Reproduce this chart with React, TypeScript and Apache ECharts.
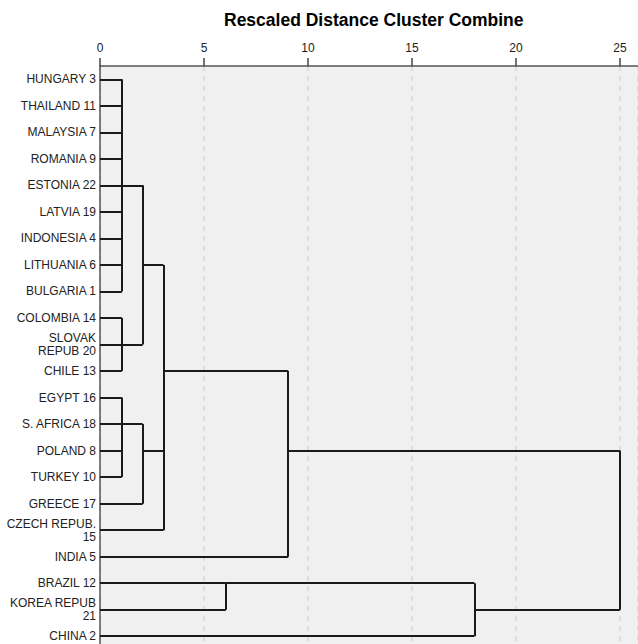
import React, { useEffect, useRef } from "react";
import * as echarts from "echarts";

const leafLabels = [
  "HUNGARY 3",
  "THAILAND 11",
  "MALAYSIA 7",
  "ROMANIA 9",
  "ESTONIA 22",
  "LATVIA 19",
  "INDONESIA 4",
  "LITHUANIA 6",
  "BULGARIA 1",
  "COLOMBIA 14",
  "SLOVAK\nREPUB 20",
  "CHILE 13",
  "EGYPT 16",
  "S. AFRICA 18",
  "POLAND 8",
  "TURKEY 10",
  "GREECE 17",
  "CZECH REPUB.\n15",
  "INDIA 5",
  "BRAZIL 12",
  "KOREA REPUB\n21",
  "CHINA 2",
];

// Node ids: 0..21 are leaves, 22+ are merges in this order
const mergeChildren: number[][] = [
  [0, 1, 2, 3, 4, 5, 6, 7, 8], // 22
  [9, 10, 11], // 23
  [22, 23], // 24
  [12, 13, 14, 15], // 25
  [25, 16], // 26
  [26, 17], // 27
  [24, 27], // 28
  [28, 18], // 29
  [19, 20], // 30
  [30, 21], // 31
  [29, 31], // 32
];
const mergeHeights = [1.05, 1.05, 2.05, 1.05, 2.05, 3.05, 3.05, 9.05, 6.05, 18, 25];

const xTicks = [0, 5, 10, 15, 20, 25];

function buildSegments() {
  const n = leafLabels.length;
  const row: number[] = leafLabels.map((_, i) => i);
  const height: number[] = leafLabels.map(() => 0);
  const segs: { coords: number[][] }[] = [];
  mergeChildren.forEach((children, k) => {
    const h = mergeHeights[k];
    const rows = children.map((c) => row[c]);
    children.forEach((c) => {
      segs.push({ coords: [[height[c], row[c]], [h, row[c]]] });
    });
    const lo = Math.min(...rows);
    const hi = Math.max(...rows);
    segs.push({ coords: [[h, lo], [h, hi]] });
    row[n + k] = Math.floor((lo + hi) / 2);
    height[n + k] = h;
  });
  return segs;
}

export default function App() {
  const ref = useRef<HTMLDivElement>(null);
  useEffect(() => {
    if (!ref.current) return;
    const chart = echarts.init(ref.current, undefined, { renderer: "svg" });
    const font = "'Liberation Sans', Arial, sans-serif";
    chart.setOption({
      animation: false,
      backgroundColor: "#ffffff",
      textStyle: { fontFamily: font },
      graphic: [
        {
          type: "text",
          left: 224,
          top: 11,
          style: {
            text: "Rescaled Distance Cluster Combine",
            font: `bold 17.5px ${font}`,
            fill: "#000",
          },
        },
      ],
      grid: {
        left: 100,
        right: 0,
        top: 66,
        bottom: 0.5,
        show: true,
        backgroundColor: "#f0f0f0",
        borderWidth: 0,
      },
      xAxis: {
        type: "value",
        position: "top",
        min: 0,
        max: 25.87,
        interval: 5,
        axisLine: { show: true, lineStyle: { color: "#555", width: 1.5 } },
        axisTick: { show: true, length: 8, lineStyle: { color: "#444", width: 1.5 } },
        axisLabel: {
          margin: 12,
          fontSize: 12,
          color: "#222",
          fontFamily: font,
          showMaxLabel: false,
          formatter: (v: number) => (xTicks.includes(v) ? String(v) : ""),
        },
        splitLine: {
          show: true,
          lineStyle: { color: "#d6d6d6", width: 1.5, type: [5, 5] },
        },
      },
      yAxis: {
        type: "category",
        inverse: true,
        data: leafLabels,
        boundaryGap: true,
        axisLine: { show: true, lineStyle: { color: "#555", width: 1.5 } },
        axisTick: { show: false },
        axisLabel: {
          margin: 4,
          fontSize: 12,
          lineHeight: 13,
          color: "#222",
          fontFamily: font,
          align: "right",
          interval: 0,
        },
        splitLine: { show: false },
      },
      series: [
        {
          type: "lines",
          coordinateSystem: "cartesian2d",
          polyline: false,
          silent: true,
          lineStyle: { color: "#1a1a1a", width: 2, opacity: 1 },
          data: buildSegments(),
        },
      ],
    });
    return () => chart.dispose();
  }, []);
  return (
    <div
      ref={ref}
      style={{ position: "fixed", left: 0, top: 0, width: 638, height: 650 }}
    />
  );
}
